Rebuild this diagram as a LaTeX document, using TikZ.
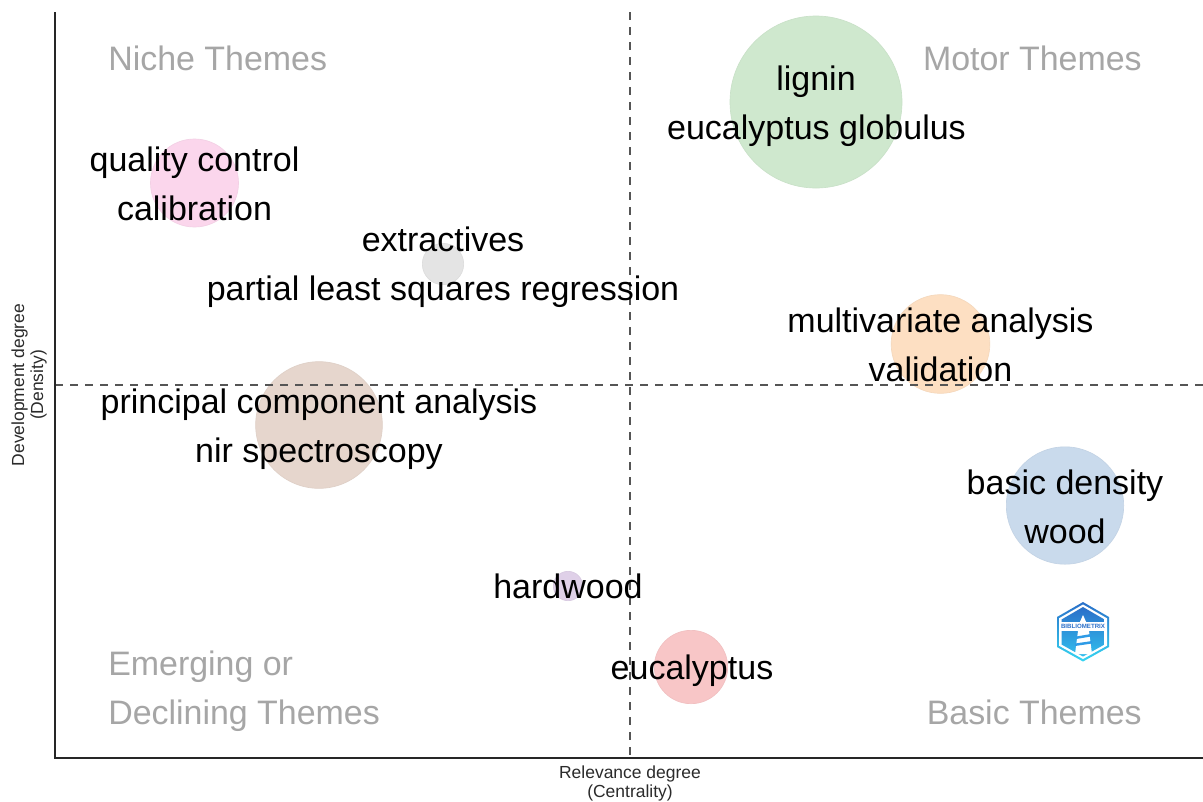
\documentclass[tikz,border=0pt]{standalone}
\usepackage{fontspec}
\setmainfont{Liberation Sans}
\definecolor{themegray}{HTML}{A6A6A6}
\definecolor{dashgray}{HTML}{555555}
\definecolor{smalltext}{HTML}{2B2B2B}
\definecolor{cg}{HTML}{CFE8CE}\definecolor{cp}{HTML}{FBD6EC}\definecolor{cy}{HTML}{E4E4E4}
\definecolor{co}{HTML}{FDDFC2}\definecolor{cb}{HTML}{E6D6CD}\definecolor{cl}{HTML}{C9DAEC}
\definecolor{cv}{HTML}{DFD0E8}\definecolor{cr}{HTML}{F8C6C7}
\definecolor{logodark}{HTML}{2A6FC9}\definecolor{logomid}{HTML}{2E9BE6}\definecolor{logolight}{HTML}{35D6F2}
\tikzset{
  bubble/.style={circle,draw=#1!97!black,fill=#1,line width=0.5pt,inner sep=0pt},
  lab/.style={font=\fontsize{25.5pt}{30pt}\selectfont,text=black,inner sep=0pt,anchor=base},
  theme/.style={font=\fontsize{25.45pt}{30pt}\selectfont,text=themegray,inner sep=0pt,anchor=base west},
  small/.style={font=\fontsize{13.1pt}{15pt}\selectfont,text=smalltext,inner sep=0pt,anchor=base},
  axis/.style={line width=1.5pt,black!85},
  quad/.style={dash pattern=on 6pt off 5.25pt,line width=1.5pt,dashgray}
}
\begin{document}
\begin{tikzpicture}[x=0.75pt,y=-0.75pt]
\useasboundingbox (0,0) rectangle (1203,801);
\fill[white] (0,0) rectangle (1203,801);
% bubbles
\node[bubble=cg,minimum size=129pt] (b1) at (816,102) {};
\node[bubble=cp,minimum size=66pt] (b2) at (194.5,183) {};
\node[bubble=cy,minimum size=31pt] (b3) at (443,264) {};
\node[bubble=co,minimum size=74pt] (b4) at (940.5,344) {};
\node[bubble=cb,minimum size=95pt] (b5) at (319,425) {};
\node[bubble=cl,minimum size=88pt] (b6) at (1065,505.5) {};
\node[bubble=cv,minimum size=22pt] (b7) at (568,586) {};
\node[bubble=cr,minimum size=55pt] (b8) at (691,667) {};
% quadrant lines and axes
\coordinate (vt) at (629.5,12); \coordinate (vb) at (629.5,757);
\coordinate (hl) at (55,384.5); \coordinate (hr) at (1203,384.5);
\coordinate (ot) at (55,12); \coordinate (oo) at (55,757.5); \coordinate (ox) at (1203,757.5);
\draw[quad] (vt) -- (vb);
\draw[quad] (hl) -- (hr);
\draw[axis] (ot) -- (oo) -- (ox);
% theme labels
\node[theme] (t1) at (108,70) {Niche Themes};
\node[theme,anchor=base east] (t2) at (1142,70) {Motor Themes};
\node[theme] (t3) at (108,675) {Emerging or};
\node[theme] (t4) at (108,724) {Declining Themes};
\node[theme,anchor=base east] (t5) at (1142,724) {Basic Themes};
% cluster labels
\node[lab] (l1) at (816,90) {lignin};
\node[lab] (l2) at (816.5,139) {eucalyptus globulus};
\node[lab] (l3) at (194.5,171) {quality control};
\node[lab] (l4) at (194.5,220) {calibration};
\node[lab] (l5) at (443,251) {extractives};
\node[lab] (l6) at (443,300) {partial least squares regression};
\node[lab] (l7) at (940.5,332) {multivariate analysis};
\node[lab] (l8) at (940.5,381) {validation};
\node[lab] (l9) at (319,413) {principal component analysis};
\node[lab] (l10) at (319,462) {nir spectroscopy};
\node[lab] (l11) at (1065,494) {basic density};
\node[lab] (l12) at (1065,543) {wood};
\node[lab] (l13) at (568,598) {hardwood};
\node[lab] (l14) at (692,679) {eucalyptus};
% axis titles
\node[small] (x1) at (630,778) {Relevance degree};
\node[small] (x2) at (630,797.5) {(Centrality)};
\node[small,rotate=90] (y1) at (24,385) {Development degree};
\node[small,rotate=90] (y2) at (43,385) {(Density)};
% logo
\shade[top color=logodark,bottom color=logolight]
  (1083,602) -- (1109,617) -- (1109,647) -- (1083,661.5) -- (1057,647) -- (1057,617) -- cycle;
\fill[white] (1083,604.5) -- (1107,618.3) -- (1107,645.7) -- (1083,659) -- (1059,645.7) -- (1059,618.3) -- cycle;
\shade[top color=logodark,bottom color=logolight!60!logomid]
  (1083,607) -- (1104.5,619.5) -- (1104.5,644.5) -- (1083,656.5) -- (1061.5,644.5) -- (1061.5,619.5) -- cycle;
\fill[white] (1083,615) -- (1087,624) -- (1079,624) -- cycle;
\fill[white] (1078,631) -- (1089,631) -- (1092,654) -- (1075,654) -- cycle;
\fill[logomid] (1076,636.5) -- (1091,634) -- (1091,636.5) -- (1076,639) -- cycle;
\fill[logomid] (1075,643.5) -- (1092,641) -- (1092,643.5) -- (1075,646) -- cycle;
\fill[white] (1060,622) rectangle (1106.5,631);
\node[inner sep=0pt,font=\fontsize{4.6pt}{5pt}\selectfont\bfseries,text=logodark] (logo) at (1083,626.5) {BIBLIOMETRIX};
\end{tikzpicture}
\end{document}
